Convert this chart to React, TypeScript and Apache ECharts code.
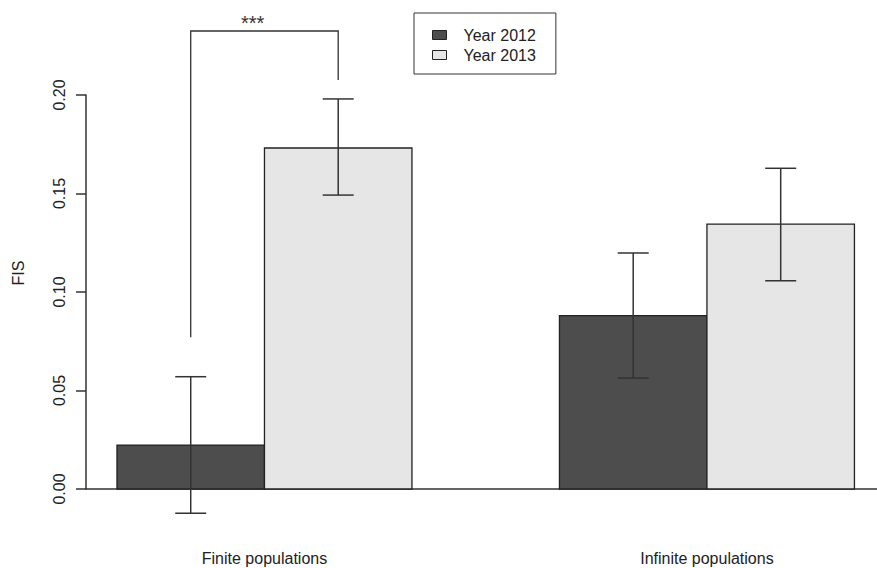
import React, { useEffect, useRef } from "react";
import * as echarts from "echarts";

const categories = ["Finite populations", "Infinite populations"];
const years = ["Year 2012", "Year 2013"];
const fis2012 = [0.0223, 0.088];
const fis2013 = [0.1731, 0.1345];
const low2012 = [-0.0123, 0.0563];
const high2012 = [0.057, 0.1198];
const low2013 = [0.1492, 0.1057];
const high2013 = [0.198, 0.1628];
const yTicks = [0, 0.05, 0.1, 0.15, 0.2];
// significance bracket (finite populations, 2012 vs 2013)
const sigLabel = "***";
const sigTop = 0.2325;
const sigLeftBottom = 0.077;
const sigRightBottom = 0.2076;

const colors = ["#4d4d4d", "#e6e6e6"];
const ink = "#222";
const FONT = "'Liberation Sans', Arial, Helvetica, sans-serif";

// R barplot(beside=TRUE) layout: bar j of group g spans [1+3g+j, 2+3g+j]
const barCenter = (g: number, j: number) => 1.5 + 3 * g + j;

function buildData(vals: number[], lows: number[], highs: number[], j: number) {
  return vals.map((v, g) => [barCenter(g, j), v, lows[g], highs[g]]);
}

const renderBar = (params: any, api: any) => {
  const x = api.value(0);
  const v = api.value(1);
  const lo = api.value(2);
  const hi = api.value(3);
  const p0 = api.coord([x - 0.5, 0]);
  const p1 = api.coord([x + 0.5, v]);
  const pl = api.coord([x, lo]);
  const ph = api.coord([x, hi]);
  const cap = 15.5;
  const ls = { stroke: "#333", lineWidth: 1.5 };
  return {
    type: "group",
    children: [
      {
        type: "rect",
        shape: { x: p0[0], y: p1[1], width: p1[0] - p0[0], height: p0[1] - p1[1] },
        style: { fill: api.visual("color"), stroke: ink, lineWidth: 1.3 },
      },
      { type: "line", shape: { x1: pl[0], y1: pl[1], x2: ph[0], y2: ph[1] }, style: ls },
      { type: "line", shape: { x1: ph[0] - cap, y1: ph[1], x2: ph[0] + cap, y2: ph[1] }, style: ls },
      { type: "line", shape: { x1: pl[0] - cap, y1: pl[1], x2: pl[0] + cap, y2: pl[1] }, style: ls },
    ],
  };
};

export default function App() {
  const ref = useRef<HTMLDivElement>(null);
  useEffect(() => {
    if (!ref.current) return;
    const chart = echarts.init(ref.current, undefined, { renderer: "svg" });
    const bracketX1 = barCenter(0, 0);
    const bracketX2 = barCenter(0, 1);
    chart.setOption({
      animation: false,
      backgroundColor: "#ffffff",
      textStyle: { fontFamily: FONT },
      grid: { left: 86, right: 0, top: 95, bottom: 79, containLabel: false },
      legend: {
        orient: "vertical",
        left: 414,
        top: 13,
        padding: [14, 20, 11, 18],
        itemWidth: 14,
        itemHeight: 9,
        itemGap: 4,
        borderColor: "#333",
        borderWidth: 1,
        borderRadius: 0,
        selectedMode: false,
        textStyle: { fontSize: 16, color: ink, fontFamily: FONT, padding: [0, 0, 0, 12] },
        data: years.map((y, i) => ({
          name: y,
          icon: "rect",
          itemStyle: { color: colors[i], borderColor: ink, borderWidth: 1 },
        })),
      },
      xAxis: {
        type: "value",
        min: 0.79,
        max: 6.153,
        axisLine: { show: true, onZero: false, lineStyle: { color: "#333", width: 1.5 } },
        axisTick: { show: false },
        splitLine: { show: false },
        axisLabel: {
          customValues: categories.map((_, g) => barCenter(g, 0) + 0.5),
          formatter: (v: number) => {
            const g = Math.round((v - 2) / 3);
            return categories[g] ?? "";
          },
          margin: 61,
          fontSize: 16,
          color: ink,
          fontFamily: FONT,
        },
      },
      yAxis: {
        type: "value",
        min: 0,
        max: 0.2,
        interval: 0.05,
        axisLine: { show: true, lineStyle: { color: "#333", width: 1.5 } },
        axisTick: { show: true, length: 10, lineStyle: { color: "#333", width: 1.5 } },
        splitLine: { show: false },
        axisLabel: {
          customValues: yTicks,
          rotate: 90,
          margin: 19,
          fontSize: 16,
          color: ink,
          fontFamily: FONT,
          formatter: (v: number) => v.toFixed(2),
        },
      },
      graphic: [
        {
          type: "text",
          x: 18,
          y: 273,
          rotation: Math.PI / 2,
          style: {
            text: "FIS",
            fontSize: 16,
            fill: ink,
            fontFamily: FONT,
            align: "center",
            verticalAlign: "middle",
          },
        },
      ],
      series: [
        {
          name: years[0],
          type: "custom",
          itemStyle: { color: colors[0] },
          renderItem: renderBar,
          encode: { x: 0, y: 1 },
          data: buildData(fis2012, low2012, high2012, 0),
          clip: false,
        },
        {
          name: years[1],
          type: "custom",
          itemStyle: { color: colors[1] },
          renderItem: renderBar,
          encode: { x: 0, y: 1 },
          data: buildData(fis2013, low2013, high2013, 1),
          clip: false,
        },
        {
          name: "bracket",
          type: "custom",
          clip: false,
          silent: true,
          encode: { x: 0, y: 2 },
          data: [[bracketX1, bracketX2, sigTop, sigLeftBottom, sigRightBottom]],
          renderItem: (params: any, api: any) => {
            const a = api.coord([api.value(0), api.value(3)]);
            const b = api.coord([api.value(0), api.value(2)]);
            const c = api.coord([api.value(1), api.value(2)]);
            const d = api.coord([api.value(1), api.value(4)]);
            const starX = a[0] + (c[0] - a[0]) * 0.42;
            return {
              type: "group",
              children: [
                {
                  type: "polyline",
                  shape: { points: [a, b, c, d] },
                  style: { stroke: "#333", lineWidth: 1.3, fill: "none" },
                },
                {
                  type: "text",
                  x: starX,
                  y: b[1] - 8,
                  style: {
                    text: sigLabel,
                    fontSize: 20,
                    fill: "#333",
                    fontFamily: FONT,
                    align: "center",
                    verticalAlign: "middle",
                  },
                },
              ],
            };
          },
        },
      ],
    });
    return () => chart.dispose();
  }, []);
  return (
    <div
      ref={ref}
      style={{ position: "fixed", left: 0, top: 0, width: 877, height: 568, overflow: "hidden" }}
    />
  );
}
